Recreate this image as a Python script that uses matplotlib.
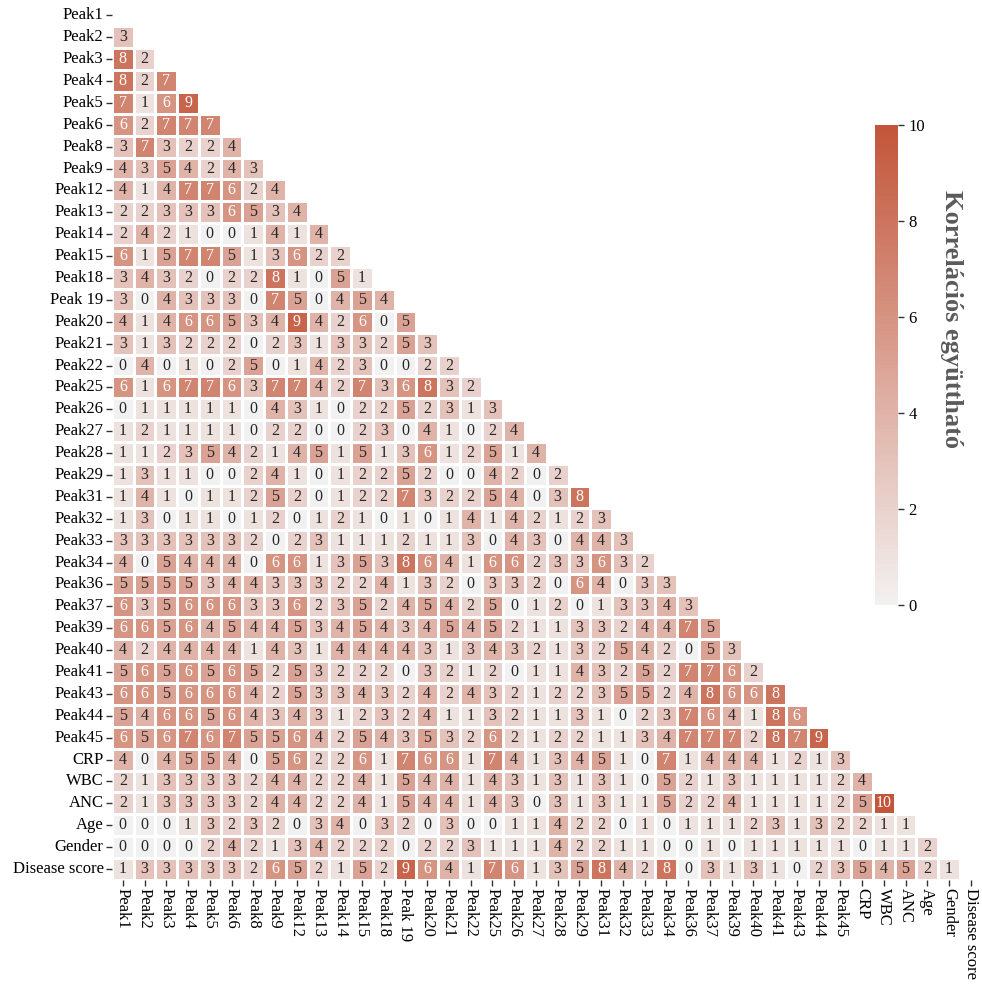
import numpy as np
import matplotlib
matplotlib.use('Agg')
import matplotlib.pyplot as plt
import seaborn as sns
from matplotlib.colors import ListedColormap

# variable names (rows and columns of the triangle)
labels = ['Peak1', 'Peak2', 'Peak3', 'Peak4', 'Peak5', 'Peak6', 'Peak8', 'Peak9',
          'Peak12', 'Peak13', 'Peak14', 'Peak15', 'Peak18', 'Peak 19', 'Peak20',
          'Peak21', 'Peak22', 'Peak25', 'Peak26', 'Peak27', 'Peak28', 'Peak29',
          'Peak31', 'Peak32', 'Peak33', 'Peak34', 'Peak36', 'Peak37', 'Peak39',
          'Peak40', 'Peak41', 'Peak43', 'Peak44', 'Peak45', 'CRP', 'WBC', 'ANC',
          'Age', 'Gender', 'Disease score']

# lower triangle, one list per row (values below the diagonal)
lower_rows = [
    [],
    [3],
    [8, 2],
    [8, 2, 7],
    [7, 1, 6, 9],
    [6, 2, 7, 7, 7],
    [3, 7, 3, 2, 2, 4],
    [4, 3, 5, 4, 2, 4, 3],
    [4, 1, 4, 7, 7, 6, 2, 4],
    [2, 2, 3, 3, 3, 6, 5, 3, 4],
    [2, 4, 2, 1, 0, 0, 1, 4, 1, 4],
    [6, 1, 5, 7, 7, 5, 1, 3, 6, 2, 2],
    [3, 4, 3, 2, 0, 2, 2, 8, 1, 0, 5, 1],
    [3, 0, 4, 3, 3, 3, 0, 7, 5, 0, 4, 5, 4],
    [4, 1, 4, 6, 6, 5, 3, 4, 9, 4, 2, 6, 0, 5],
    [3, 1, 3, 2, 2, 2, 0, 2, 3, 1, 3, 3, 2, 5, 3],
    [0, 4, 0, 1, 0, 2, 5, 0, 1, 4, 2, 3, 0, 0, 2, 2],
    [6, 1, 6, 7, 7, 6, 3, 7, 7, 4, 2, 7, 3, 6, 8, 3, 2],
    [0, 1, 1, 1, 1, 1, 0, 4, 3, 1, 0, 2, 2, 5, 2, 3, 1, 3],
    [1, 2, 1, 1, 1, 1, 0, 2, 2, 0, 0, 2, 3, 0, 4, 1, 0, 2, 4],
    [1, 1, 2, 3, 5, 4, 2, 1, 4, 5, 1, 5, 1, 3, 6, 1, 2, 5, 1, 4],
    [1, 3, 1, 1, 0, 0, 2, 4, 1, 0, 1, 2, 2, 5, 2, 0, 0, 4, 2, 0, 2],
    [1, 4, 1, 0, 1, 1, 2, 5, 2, 0, 1, 2, 2, 7, 3, 2, 2, 5, 4, 0, 3, 8],
    [1, 3, 0, 1, 1, 0, 1, 2, 0, 1, 2, 1, 0, 1, 0, 1, 4, 1, 4, 2, 1, 2, 3],
    [3, 3, 3, 3, 3, 3, 2, 0, 2, 3, 1, 1, 1, 2, 1, 1, 3, 0, 4, 3, 0, 4, 4, 3],
    [4, 0, 5, 4, 4, 4, 0, 6, 6, 1, 3, 5, 3, 8, 6, 4, 1, 6, 6, 2, 3, 3, 6, 3, 2],
    [5, 5, 5, 5, 3, 4, 4, 3, 3, 3, 2, 2, 4, 1, 3, 2, 0, 3, 3, 2, 0, 6, 4, 0, 3, 3],
    [6, 3, 5, 6, 6, 6, 3, 3, 6, 2, 3, 5, 2, 4, 5, 4, 2, 5, 0, 1, 2, 0, 1, 3, 3, 4, 3],
    [6, 6, 5, 6, 4, 5, 4, 4, 5, 3, 4, 5, 4, 3, 4, 5, 4, 5, 2, 1, 1, 3, 3, 2, 4, 4, 7, 5],
    [4, 2, 4, 4, 4, 4, 1, 4, 3, 1, 4, 4, 4, 4, 3, 1, 3, 4, 3, 2, 1, 3, 2, 5, 4, 2, 0, 5, 3],
    [5, 6, 5, 6, 5, 6, 5, 2, 5, 3, 2, 2, 2, 0, 3, 2, 1, 2, 0, 1, 1, 4, 3, 2, 5, 2, 7, 7, 6, 2],
    [6, 6, 5, 6, 6, 6, 4, 2, 5, 3, 3, 4, 3, 2, 4, 2, 4, 3, 2, 1, 2, 2, 3, 5, 5, 2, 4, 8, 6, 6, 8],
    [5, 4, 6, 6, 5, 6, 4, 3, 4, 3, 1, 2, 3, 2, 4, 1, 1, 3, 2, 1, 1, 3, 1, 0, 2, 3, 7, 6, 4, 1, 8, 6],
    [6, 5, 6, 7, 6, 7, 5, 5, 6, 4, 2, 5, 4, 3, 5, 3, 2, 6, 2, 1, 2, 2, 1, 1, 3, 4, 7, 7, 7, 2, 8, 7, 9],
    [4, 0, 4, 5, 5, 4, 0, 5, 6, 2, 2, 6, 1, 7, 6, 6, 1, 7, 4, 1, 3, 4, 5, 1, 0, 7, 1, 4, 4, 4, 1, 2, 1, 3],
    [2, 1, 3, 3, 3, 3, 2, 4, 4, 2, 2, 4, 1, 5, 4, 4, 1, 4, 3, 1, 3, 1, 3, 1, 0, 5, 2, 1, 3, 1, 1, 1, 1, 2, 4],
    [2, 1, 3, 3, 3, 3, 2, 4, 4, 2, 2, 4, 1, 5, 4, 4, 1, 4, 3, 0, 3, 1, 3, 1, 1, 5, 2, 2, 4, 1, 1, 1, 1, 2, 5, 10],
    [0, 0, 0, 1, 3, 2, 3, 2, 0, 3, 4, 0, 3, 2, 0, 3, 0, 0, 1, 1, 4, 2, 2, 0, 1, 0, 1, 1, 1, 2, 3, 1, 3, 2, 2, 1, 1],
    [0, 0, 0, 0, 2, 4, 2, 1, 3, 4, 2, 2, 2, 0, 2, 2, 3, 1, 1, 1, 4, 2, 2, 1, 1, 0, 0, 1, 0, 1, 1, 1, 1, 1, 0, 1, 1, 2],
    [1, 3, 3, 3, 3, 3, 2, 6, 5, 2, 1, 5, 2, 9, 6, 4, 1, 7, 6, 1, 3, 5, 8, 4, 2, 8, 0, 3, 1, 3, 1, 0, 2, 3, 5, 4, 5, 2, 1],
]

n = len(labels)
corr = np.full((n, n), np.nan)
for i, row in enumerate(lower_rows):
    corr[i, :len(row)] = row
mask = np.triu(np.ones((n, n), dtype=bool))

plt.rcParams['font.family'] = ['Liberation Serif', 'DejaVu Serif']

# upper half of the blue-red diverging palette: light grey -> brick red
base = sns.diverging_palette(220, 20, as_cmap=True)
cmap = ListedColormap(base(np.linspace(0.5, 1, 256)))

fig = plt.figure(figsize=(9.82, 9.85), dpi=100)
ax = fig.add_axes([0.114, 0.1066, 0.8856, 0.889])
cax = fig.add_axes([0.891, 0.386, 0.0234, 0.487])

sns.heatmap(corr, mask=mask, cmap=cmap, vmin=0, vmax=10,
            annot=True, fmt='.0f', annot_kws={'size': 11.5},
            linewidths=0.8, linecolor='white',
            xticklabels=labels, yticklabels=labels,
            ax=ax, cbar_ax=cax)

for t in ax.texts:
    t.set_color('white' if float(t.get_text()) >= 6 else '#262626')

ax.set_xticklabels(labels, rotation=270, fontsize=12)
ax.set_yticklabels(labels, rotation=0, fontsize=12)
ax.tick_params(length=4, width=1, color='#333333', pad=2)

cax.tick_params(labelsize=12, length=4, width=1, color='#333333')
cax.set_yticks([0, 2, 4, 6, 8, 10])

fig.text(0.969, 0.676, 'Korrelációs együttható', rotation=270,
         ha='center', va='center', fontsize=19, fontweight='bold',
         color='#5a5a5a')

fig.savefig('out.png', dpi=100)
